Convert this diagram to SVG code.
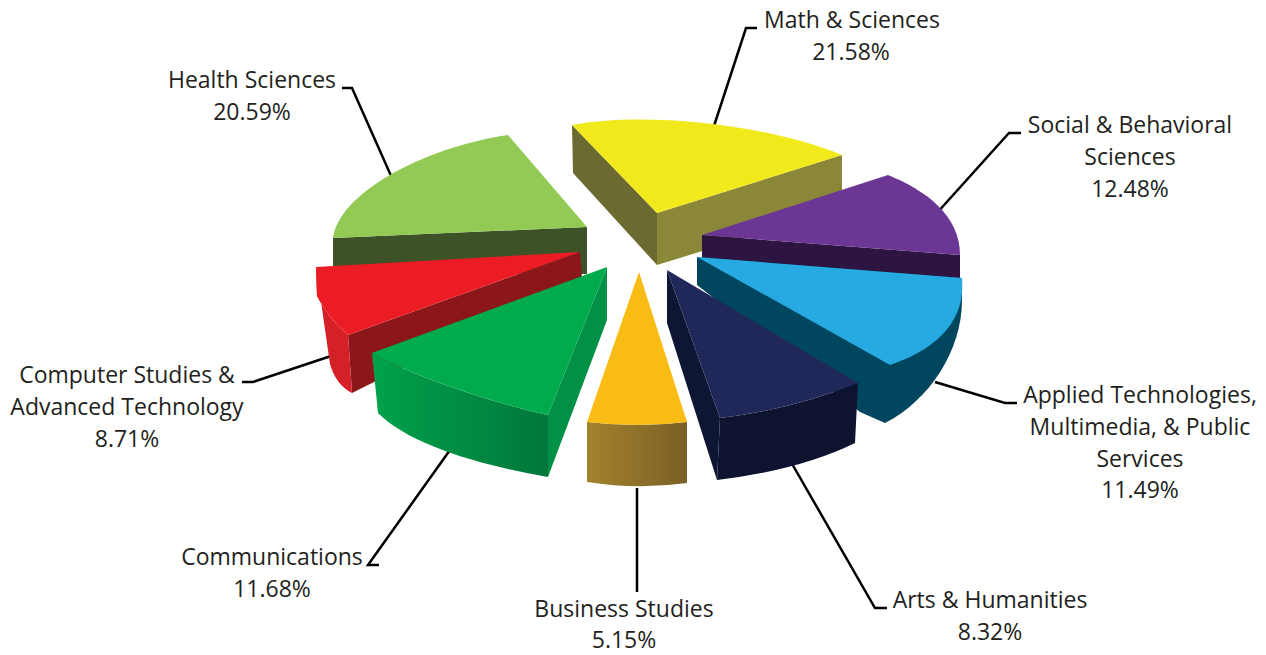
<svg xmlns="http://www.w3.org/2000/svg" width="1266" height="655" viewBox="0 0 1266 655">
<defs>
<style>
.lbl{font-family:"Open Sans","Noto Sans","Liberation Sans",sans-serif;font-size:23px;fill:#231f20;text-anchor:middle}
.lead{fill:none;stroke:#000;stroke-width:2.5;stroke-linejoin:miter}
</style>
<linearGradient id="gWallGreen" x1="0" y1="0" x2="1" y2="0">
<stop offset="0" stop-color="#00a24b"/><stop offset="1" stop-color="#00773a"/>
</linearGradient>
<linearGradient id="gWallGold" x1="0" y1="0" x2="1" y2="0">
<stop offset="0" stop-color="#a3822d"/><stop offset="1" stop-color="#7b6026"/>
</linearGradient>
</defs>
<rect width="1266" height="655" fill="#fff"/>
<g id="connectors">
<path class="lead" d="M757,28 L746,28 L714,126"/>
<path class="lead" d="M1021,133 L1009,133 L936,214"/>
<path class="lead" d="M1017,403 L1005,403 L935,382"/>
<path class="lead" d="M887,608 L875,608 L791,462"/>
<path class="lead" d="M637,488 L637,592"/>
<path class="lead" d="M379,565 L368,565 L450,450"/>
<path class="lead" d="M242,382 L253,382 L334,355"/>
<path class="lead" d="M342,88 L352,88 L392,178"/>
</g>
<g id="health-sciences">
<path d="M333,238 L587,227 L587,274 L333,272 Z" fill="#3e5228"/>
<path d="M333,238 C338,195 420,148 508,135 L587,227 Z" fill="#93c955"/>
</g>
<g id="math-sciences">
<path d="M572,125 L657,213 L657,265 L573,173 Z" fill="#6b6a30"/>
<path d="M657,213 L842,155 L842,208 L657,265 Z" fill="#8a8838"/>
<path d="M572,125 C640,112 760,122 842,155 L657,213 Z" fill="#f2e91c"/>
</g>
<g id="social-behavioral">
<path d="M702,235 L960,255 L960,282 L702,262 Z" fill="#2e1440"/>
<path d="M702,235 L888,175 C925,190 960,215 960,255 Z" fill="#6c3694"/>
</g>
<g id="applied-technologies">
<path d="M697,257 L962,278 L962,300 C962,350 930,400 885,423 L860,412 L697,285 Z" fill="#00465f"/>
<path d="M697,257 L962,278 C965,310 950,345 890,365 Z" fill="#27aae1"/>
</g>
<g id="arts-humanities">
<path d="M667,270 L667,323 L717,480 L720,418 Z" fill="#0f1633"/>
<path d="M720,418 Q790,410 858,383 L855,443 Q800,470 717,480 Z" fill="#0e1430"/>
<path d="M667,270 L858,383 Q790,410 720,418 Z" fill="#20285a"/>
</g>
<g id="computer-studies">
<path d="M348,335 L580,252 L582,278 L352,393 Z" fill="#8b171a"/>
<path d="M316,267 L317,296 Q328,318 348,335 L352,393 Q336,385 330,364 Z" fill="#d42027"/>
<path d="M316,267 L580,252 L348,335 Q328,318 317,296 Z" fill="#ec1c24"/>
</g>
<g id="communications">
<path d="M607,267 L607,320 L548,477 L548,415 Z" fill="#009147"/>
<path d="M372,353 C400,370 480,400 548,415 L548,477 C480,465 410,445 378,413 Z" fill="url(#gWallGreen)"/>
<path d="M607,267 L372,353 C400,370 480,400 548,415 Z" fill="#00ab4e"/>
</g>
<g id="business-studies">
<path d="M587,422 Q637,428 687,422 L687,483 Q637,490 587,482 Z" fill="url(#gWallGold)"/>
<path d="M639,272 L687,422 Q637,428 587,422 Z" fill="#f9bc15"/>
</g>
<g id="labels">
<text class="lbl" x="852" y="28">Math &amp; Sciences</text>
<text class="lbl" x="851" y="60">21.58%</text>
<text class="lbl" x="1130" y="133">Social &amp; Behavioral</text>
<text class="lbl" x="1130" y="165">Sciences</text>
<text class="lbl" x="1130" y="197">12.48%</text>
<text class="lbl" x="1140" y="403">Applied Technologies,</text>
<text class="lbl" x="1140" y="435">Multimedia, &amp; Public</text>
<text class="lbl" x="1140" y="467">Services</text>
<text class="lbl" x="1140" y="498">11.49%</text>
<text class="lbl" x="990" y="608">Arts &amp; Humanities</text>
<text class="lbl" x="990" y="640">8.32%</text>
<text class="lbl" x="624" y="617">Business Studies</text>
<text class="lbl" x="624" y="648">5.15%</text>
<text class="lbl" x="272" y="565">Communications</text>
<text class="lbl" x="272" y="597">11.68%</text>
<text class="lbl" x="127" y="383">Computer Studies &amp;</text>
<text class="lbl" x="127" y="415">Advanced Technology</text>
<text class="lbl" x="127" y="447">8.71%</text>
<text class="lbl" x="252" y="88">Health Sciences</text>
<text class="lbl" x="252" y="120">20.59%</text>
</g>
</svg>
